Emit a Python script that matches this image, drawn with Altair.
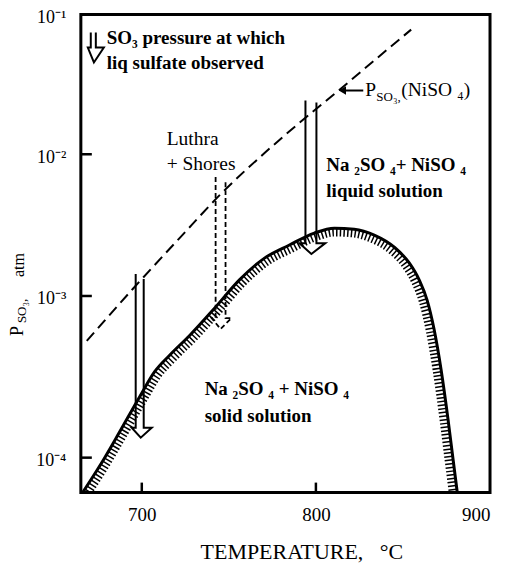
import altair as alt
import pandas as pd
import numpy as np

# ---------------- data ----------------
x_domain = [665, 900]
x_tick_values = [700, 800, 900]
y_tick_values = [-4, -3, -2, -1]          # log10(P, atm)
y_tick_labels = ["10⁻⁴", "10⁻³", "10⁻²", "10⁻¹"]

# phase boundary Na2SO4-NiSO4 (solid / liquid), T in °C, P in atm
curve_T = [666.1, 675.9, 687.4, 698.8, 707.4, 716.0, 727.5, 741.8, 756.1, 770.5,
           784.8, 799.1, 810.6, 822.0, 833.5, 845.0, 853.6, 859.3, 863.9, 867.9,
           871.9, 875.9, 878.8, 881.1]
curve_P = [6.1e-5, 8.9e-5, 1.45e-4, 2.38e-4, 3.4e-4, 4.3e-4, 5.7e-4, 8.4e-4, 1.30e-3, 1.85e-3,
           2.29e-3, 2.78e-3, 3.01e-3, 2.96e-3, 2.69e-3, 2.21e-3, 1.71e-3, 1.30e-3, 9.4e-4, 6.2e-4,
           3.5e-4, 1.72e-4, 9.7e-5, 6.2e-5]

# P_SO3(NiSO4) dashed line
niso4_T = [668.4, 694.8, 721.7, 745.8, 770.5, 796.3, 811.7, 833.5, 854.7]
niso4_P = [5.27e-4, 1.12e-3, 2.56e-3, 5.31e-3, 1.02e-2, 1.93e-2, 2.77e-2, 4.69e-2, 7.8e-2]

# hollow arrows: legend symbol, 700 °C, Luthra + Shores, 800 °C
arrow_names = ["legend", "a700", "luthra", "a800"]
arrow_dashed = [False, False, True, False]
shaft_left_T = [670.7, 696.5, 742.4, 794.0]
shaft_right_T = [673.6, 701.1, 748.1, 800.3]
top_left_P = [0.0743, 1.43e-3, 6.9e-3, 2.43e-2]
top_right_P = [0.0743, 1.32e-3, 6.5e-3, 2.35e-2]
head_left_T = [669.0, 694.2, 740.1, 790.5]
head_right_T = [678.2, 705.7, 751.5, 805.4]
head_top_P = [0.0581, 1.53e-4, 7.3e-4, 2.36e-3]
tip_T = [672.5, 699.4, 745.2, 797.4]
tip_P = [0.0454, 1.33e-4, 6.25e-4, 1.98e-3]

# small pointer arrow to the dashed line
pointer_T = [815.2, 827.2]
pointer_P = [0.0286, 0.0286]

# annotations
bold_texts = ["SO₃ pressure at which", "liq sulfate observed",
              "Na ₂SO ₄+ NiSO ₄", "liquid solution",
              "Na ₂SO ₄ + NiSO ₄", "solid solution"]
bold_T = [679.9, 679.9, 806.0, 806.0, 736.1, 736.1]
bold_P = [0.0674, 0.0447, 8.4e-3, 5.5e-3, 2.67e-4, 1.82e-4]

reg_texts = ["Luthra", "+ Shores", "P", "(NiSO ₄)"]
reg_T = [714.3, 714.3, 828.4, 849.0]
reg_P = [0.0128, 8.5e-3, 0.0286, 0.0286]

sub_texts = ["SO₃,"]
sub_T = [834.7]
sub_P = [0.0255]

# ---------------- tables ----------------
curve_df = pd.DataFrame({"T": curve_T, "L": np.log10(curve_P)})
curve_df["i"] = range(len(curve_df))

# hatch band: the boundary shifted inward by a few pixels (direction only)
u = np.array(curve_T) * 1.745
v = -np.log10(curve_P) * 148.0
du, dv = np.gradient(u), np.gradient(v)
nn = np.hypot(du, dv)
nu, nv = -dv / nn, du / nn
off = 4.5
hatch_df = pd.DataFrame({"T": (u + off * nu) / 1.745, "L": -(v + off * nv) / 148.0})
hatch_df["i"] = range(len(hatch_df))

niso4_df = pd.DataFrame({"T": niso4_T, "L": np.log10(niso4_P)})

rows = []
for k, name in enumerate(arrow_names):
    pts = [(shaft_left_T[k], top_left_P[k]), (shaft_left_T[k], head_top_P[k]),
           (head_left_T[k], head_top_P[k]), (tip_T[k], tip_P[k]),
           (head_right_T[k], head_top_P[k]), (shaft_right_T[k], head_top_P[k]),
           (shaft_right_T[k], top_right_P[k])]
    for j, (t, p) in enumerate(pts):
        rows.append({"arrow": name, "dashed": arrow_dashed[k], "o": j, "T": t, "L": np.log10(p)})
arrows_df = pd.DataFrame(rows)

pointer_df = pd.DataFrame({"T": pointer_T, "L": np.log10(pointer_P)})
bold_df = pd.DataFrame({"T": bold_T, "L": np.log10(bold_P), "text": bold_texts})
reg_df = pd.DataFrame({"T": reg_T, "L": np.log10(reg_P), "text": reg_texts})
sub_df = pd.DataFrame({"T": sub_T, "L": np.log10(sub_P), "text": sub_texts})
ytick_df = pd.DataFrame({"L": y_tick_values[:-1]})
xtick_df = pd.DataFrame({"T": x_tick_values[:-1]})

# ---------------- scales / axes ----------------
serif = "Liberation Serif"
x_scale = alt.Scale(domain=x_domain, nice=False, zero=False)
# the figure's decades are not evenly spaced: piecewise scale through the tick positions
y_scale = alt.Scale(domain=[-4.216, -4, -3, -2, -1], range=[479, 444, 282, 140, 0],
                    nice=False, zero=False)

label_expr = " : ".join(
    f"datum.value == {v_} ? '{l_}'" for v_, l_ in zip(y_tick_values[:-1], y_tick_labels[:-1])
) + f" : '{y_tick_labels[-1]}'"

x_axis = alt.Axis(values=x_tick_values, title=None, grid=False, domain=False, ticks=False,
                  tickSize=0, labelFont=serif, labelFontSize=19, labelColor="black",
                  labelPadding=13, labelFlush=7, labelOverlap=False)
y_axis = alt.Axis(values=y_tick_values, title=None, grid=False, domain=False, ticks=False,
                  tickSize=0, labelFont=serif, labelFontSize=18, labelColor="black",
                  labelPadding=15, labelOffset=3, labelExpr=label_expr, labelOverlap=False)

X = alt.X("T:Q", scale=x_scale, axis=x_axis)
Y = alt.Y("L:Q", scale=y_scale, axis=y_axis)

# ---------------- layers ----------------
curve = alt.Chart(curve_df).mark_line(color="black", strokeWidth=3, interpolate="monotone",
                                      clip=True).encode(x=X, y=Y, order="i:Q")
hatch = alt.Chart(hatch_df).mark_line(color="black", strokeWidth=8, strokeDash=[1.5, 2.2],
                                      interpolate="monotone", clip=True).encode(x=X, y=Y, order="i:Q")
niso4 = alt.Chart(niso4_df).mark_line(color="black", strokeWidth=2, strokeDash=[11, 6],
                                      interpolate="monotone").encode(x=X, y=Y)

solid_arrows = alt.Chart(arrows_df[~arrows_df["dashed"]]).mark_line(
    color="black", strokeWidth=2, strokeJoin="miter").encode(
    x=X, y=Y, detail="arrow:N", order="o:Q")
dashed_arrows = alt.Chart(arrows_df[arrows_df["dashed"]]).mark_line(
    color="black", strokeWidth=1.8, strokeDash=[5, 3]).encode(
    x=X, y=Y, detail="arrow:N", order="o:Q")

pointer_line = alt.Chart(pointer_df).mark_line(color="black", strokeWidth=2).encode(x=X, y=Y)
pointer_head = alt.Chart(pointer_df.iloc[[0]]).mark_point(
    shape="triangle-left", filled=True, color="black", size=70, opacity=1).encode(x=X, y=Y)

bold_txt = alt.Chart(bold_df).mark_text(font=serif, fontSize=19, fontWeight="bold",
                                        align="left", baseline="middle", color="black").encode(
    x=X, y=Y, text="text:N")
reg_txt = alt.Chart(reg_df).mark_text(font=serif, fontSize=19.5, align="left",
                                      baseline="middle", color="black").encode(
    x=X, y=Y, text="text:N")
sub_txt = alt.Chart(sub_df).mark_text(font=serif, fontSize=13, align="left",
                                      baseline="middle", color="black").encode(
    x=X, y=Y, text="text:N")

yticks = alt.Chart(ytick_df).mark_rule(color="black", strokeWidth=2.5).encode(
    y=Y, x=alt.value(0), x2=alt.value(11))
xticks = alt.Chart(xtick_df).mark_rule(color="black", strokeWidth=2.5).encode(
    x=X, y=alt.value(479), y2=alt.value(469))

# axis titles
title_df = pd.DataFrame({"t": ["TEMPERATURE,\u00a0\u00a0\u00a0°C"]})
x_title = alt.Chart(title_df).mark_text(font=serif, fontSize=22, align="left",
                                        baseline="middle", color="black").encode(
    x=alt.value(120), y=alt.value(539), text="t:N")
yt_P = alt.Chart(pd.DataFrame({"t": ["P"]})).mark_text(
    font=serif, fontSize=18, angle=270, align="center", baseline="middle", color="black").encode(
    x=alt.value(-63), y=alt.value(317), text="t:N")
yt_SO = alt.Chart(pd.DataFrame({"t": ["SO₃,"]})).mark_text(
    font=serif, fontSize=13, angle=270, align="center", baseline="middle", color="black").encode(
    x=alt.value(-59), y=alt.value(297), text="t:N")
yt_atm = alt.Chart(pd.DataFrame({"t": ["atm"]})).mark_text(
    font=serif, fontSize=16, angle=270, align="center", baseline="middle", color="black").encode(
    x=alt.value(-62), y=alt.value(251), text="t:N")

chart = alt.layer(
    hatch, curve, niso4, solid_arrows, dashed_arrows, pointer_line, pointer_head,
    bold_txt, reg_txt, sub_txt, yticks, xticks, x_title, yt_P, yt_SO, yt_atm
).properties(
    width=410, height=479,
    autosize=alt.AutoSizeParams(type="none"),
    padding={"left": 73, "top": 6, "right": 8, "bottom": 72},
    background="white",
).configure_view(stroke="black", strokeWidth=3)

chart.save("out.html", embed_options={"renderer": "svg", "actions": False})
